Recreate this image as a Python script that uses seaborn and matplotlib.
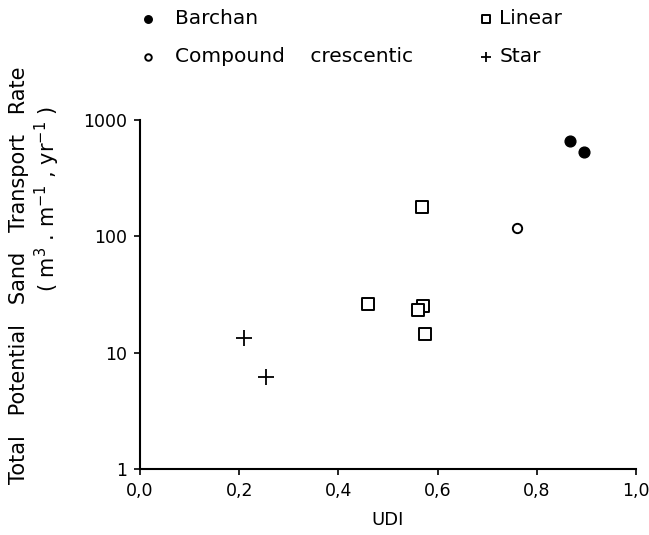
import matplotlib
matplotlib.use("Agg")
import matplotlib.pyplot as plt
import matplotlib.ticker as mticker
import pandas as pd
import seaborn as sns

##### DADOS ######################################################################
tipos = ["Barchan", "Compound    crescentic", "Linear", "Star"]
udi_barchan = [0.866, 0.895]
dp_barchan = [660, 530]
udi_compound = [0.760]
dp_compound = [118]
udi_linear = [0.569, 0.460, 0.570, 0.561, 0.575]
dp_linear = [180, 26, 25.4, 23.3, 14.4]
udi_star = [0.210, 0.254]
dp_star = [13.3, 6.2]

x_ticks = [0.0, 0.2, 0.4, 0.6, 0.8, 1.0]
y_ticks = [1, 10, 100, 1000]

##### TABELA ####################################################################
df = pd.concat([
    pd.DataFrame({"UDI": udi_barchan, "DP": dp_barchan, "tipo": tipos[0]}),
    pd.DataFrame({"UDI": udi_compound, "DP": dp_compound, "tipo": tipos[1]}),
    pd.DataFrame({"UDI": udi_linear, "DP": dp_linear, "tipo": tipos[2]}),
    pd.DataFrame({"UDI": udi_star, "DP": dp_star, "tipo": tipos[3]}),
], ignore_index=True)

estilos = {
    tipos[0]: dict(marker="o", s=60, facecolor="black", edgecolor="black", linewidth=1),
    tipos[1]: dict(marker="o", s=45, facecolor="white", edgecolor="black", linewidth=1.4),
    tipos[2]: dict(marker="s", s=70, facecolor="white", edgecolor="black", linewidth=1.4),
    tipos[3]: dict(marker="+", s=120, color="black", linewidth=1.3),
}

##### FIGURA ####################################################################
sns.set_style("ticks")
plt.rcParams["font.family"] = ["DejaVu Sans"]
plt.rcParams["text.color"] = "black"
plt.rcParams["axes.labelcolor"] = "black"
plt.rcParams["xtick.color"] = "black"
plt.rcParams["ytick.color"] = "black"

fig = plt.figure(figsize=(6.49, 5.35), dpi=100)
ax = fig.add_axes([140 / 649, 1 - 469 / 535, 496 / 649, 349 / 535])

for t in tipos:
    sub = df[df["tipo"] == t]
    sns.scatterplot(data=sub, x="UDI", y="DP", ax=ax, label=t, legend=False, **estilos[t])

ax.set_yscale("log")
ax.set_xlim(0, 1.0)
ax.set_ylim(1, 1000)
ax.xaxis.set_major_locator(mticker.FixedLocator(x_ticks))
ax.xaxis.set_major_formatter(mticker.FuncFormatter(lambda v, p: f"{v:.1f}".replace(".", ",")))
ax.yaxis.set_major_locator(mticker.FixedLocator(y_ticks))
ax.yaxis.set_major_formatter(mticker.FixedFormatter([str(v) for v in y_ticks]))
ax.yaxis.set_minor_locator(mticker.NullLocator())
ax.tick_params(axis="both", labelsize=12.5, length=4, width=1.2, color="black", pad=5)
for s in ["left", "bottom"]:
    ax.spines[s].set_linewidth(1.5)
    ax.spines[s].set_color("black")
sns.despine(ax=ax)

ax.set_xlabel("UDI", fontsize=13, labelpad=8)
ax.set_ylabel("")
fig.text(19 / 649, 1 - 275 / 535, "Total   Potential   Sand   Transport   Rate",
         rotation=90, ha="center", va="center", fontsize=15)
fig.text(47 / 649, 1 - 199 / 535, r"( m$^{3}$ . m$^{-1}$ , yr$^{-1}$ )",
         rotation=90, ha="center", va="center", fontsize=15)

handles, labels = ax.get_legend_handles_labels()
fs = 14.5
fig.legend([handles[0], handles[1]], [labels[0], labels[1]], loc="center left",
           bbox_to_anchor=(138 / 649, 1 - 37.5 / 535), ncol=1, frameon=False,
           fontsize=fs, borderpad=0, borderaxespad=0, handlelength=1.0,
           handletextpad=0.85, labelspacing=0.95, markerscale=0.7)
fig.legend([handles[2], handles[3]], [labels[2], labels[3]], loc="center left",
           bbox_to_anchor=(480 / 649, 1 - 37.5 / 535), ncol=1, frameon=False,
           fontsize=fs, borderpad=0, borderaxespad=0, handlelength=0.6,
           handletextpad=0.35, labelspacing=0.95, markerscale=0.7)

plt.savefig("out.png", dpi=100)
